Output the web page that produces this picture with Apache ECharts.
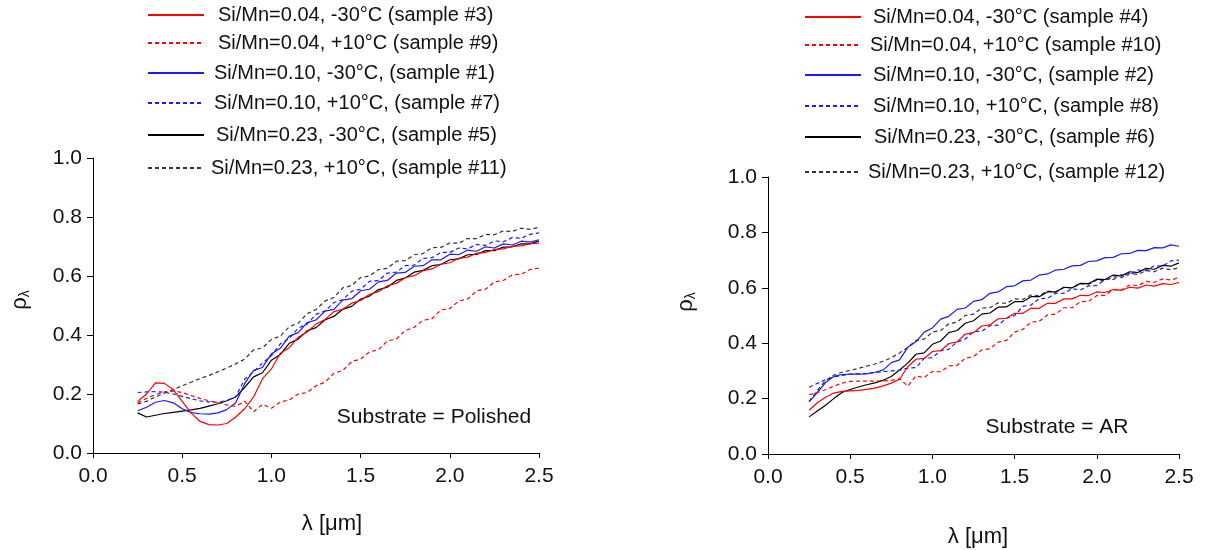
<!DOCTYPE html>
<html>
<head>
<meta charset="utf-8">
<script src="https://cdn.jsdelivr.net/npm/echarts@6/dist/echarts.min.js"></script>
<style>
  html, body { margin: 0; padding: 0; background: #fff; }
  #chart { width: 1214px; height: 550px; }
</style>
</head>
<body>
<div id="chart"></div>
<script>
// Wavelength grid (µm) shared by every spectrum
const wavelength = [0.25,0.30,0.35,0.40,0.45,0.50,0.55,0.60,0.65,0.70,0.75,0.80,0.85,0.90,0.95,1.00,
  1.05,1.10,1.15,1.20,1.25,1.30,1.35,1.40,1.45,1.50,1.55,1.60,1.65,1.70,1.75,1.80,1.85,1.90,1.95,2.00,
  2.05,2.10,2.15,2.20,2.25,2.30,2.35,2.40,2.45,2.50];

const xTicks = [0.0, 0.5, 1.0, 1.5, 2.0, 2.5];
const yTicks = [0.0, 0.2, 0.4, 0.6, 0.8, 1.0];

// Polished substrate
const namesPolished = [
  'Si/Mn=0.04, -30°C (sample #3)',
  'Si/Mn=0.04, +10°C (sample #9)',
  'Si/Mn=0.10, -30°C, (sample #1)',
  'Si/Mn=0.10, +10°C, (sample #7)',
  'Si/Mn=0.23, -30°C, (sample #5)',
  'Si/Mn=0.23, +10°C, (sample #11)'
];
const sample3 = [0.175,0.20,0.238,0.236,0.215,0.175,0.135,0.107,0.096,0.095,0.10,0.122,0.15,0.19,0.252,0.285,
  0.338,0.357,0.392,0.41,0.437,0.452,0.479,0.487,0.508,0.517,0.538,0.547,0.567,0.575,0.594,0.601,0.618,0.624,0.64,0.645,
  0.66,0.664,0.677,0.68,0.69,0.692,0.701,0.702,0.71,0.711];
const sample9 = [0.17,0.185,0.198,0.207,0.21,0.205,0.195,0.185,0.177,0.17,0.163,0.158,0.175,0.14,0.165,0.152,
  0.173,0.18,0.2,0.205,0.228,0.24,0.27,0.28,0.31,0.318,0.343,0.35,0.38,0.386,0.415,0.426,0.45,0.455,0.485,0.49,
  0.515,0.522,0.55,0.555,0.58,0.585,0.604,0.606,0.622,0.627];
const sample1 = [0.143,0.155,0.172,0.178,0.17,0.15,0.137,0.133,0.132,0.136,0.147,0.17,0.235,0.28,0.29,0.336,
  0.355,0.396,0.408,0.442,0.451,0.481,0.487,0.518,0.523,0.55,0.555,0.58,0.585,0.61,0.612,0.633,0.635,0.655,0.655,0.674,
  0.672,0.688,0.684,0.699,0.695,0.709,0.705,0.718,0.715,0.723];
const sample7 = [0.205,0.207,0.208,0.206,0.2,0.192,0.184,0.177,0.173,0.172,0.178,0.19,0.25,0.275,0.305,0.33,
  0.37,0.388,0.423,0.437,0.47,0.481,0.51,0.52,0.548,0.555,0.582,0.585,0.61,0.613,0.635,0.637,0.66,0.662,0.68,0.68,
  0.695,0.692,0.707,0.704,0.719,0.716,0.73,0.728,0.741,0.746];
const sample5 = [0.136,0.122,0.128,0.134,0.138,0.142,0.146,0.151,0.159,0.167,0.177,0.19,0.222,0.258,0.272,0.314,
  0.334,0.372,0.386,0.414,0.425,0.451,0.463,0.487,0.497,0.522,0.532,0.554,0.562,0.585,0.593,0.613,0.619,0.635,0.639,0.655,
  0.658,0.672,0.673,0.686,0.686,0.698,0.699,0.709,0.709,0.718];
const sample11 = [0.166,0.175,0.19,0.203,0.215,0.228,0.24,0.252,0.263,0.275,0.288,0.302,0.318,0.35,0.356,0.385,
  0.396,0.428,0.44,0.472,0.486,0.515,0.527,0.56,0.567,0.595,0.6,0.622,0.626,0.65,0.652,0.672,0.676,0.696,0.697,0.712,
  0.711,0.727,0.727,0.741,0.74,0.753,0.751,0.762,0.758,0.765];

// AR substrate
const namesAR = [
  'Si/Mn=0.04, -30°C (sample #4)',
  'Si/Mn=0.04, +10°C (sample #10)',
  'Si/Mn=0.10, -30°C, (sample #2)',
  'Si/Mn=0.10, +10°C, (sample #8)',
  'Si/Mn=0.23, -30°C, (sample #6)',
  'Si/Mn=0.23, +10°C, (sample #12)'
];
const sample4 = [0.158,0.185,0.205,0.22,0.226,0.228,0.23,0.233,0.238,0.246,0.256,0.27,0.315,0.342,0.345,0.37,
  0.373,0.399,0.405,0.433,0.438,0.462,0.466,0.488,0.49,0.508,0.508,0.526,0.526,0.544,0.544,0.56,0.56,0.573,0.572,0.585,
  0.583,0.594,0.591,0.602,0.599,0.61,0.606,0.615,0.612,0.619];
const sample10 = [0.214,0.222,0.232,0.245,0.256,0.262,0.263,0.263,0.263,0.264,0.266,0.272,0.245,0.282,0.276,0.298,
  0.297,0.318,0.32,0.346,0.352,0.376,0.38,0.404,0.41,0.44,0.45,0.476,0.479,0.502,0.505,0.528,0.528,0.55,0.551,0.572,
  0.573,0.593,0.592,0.61,0.608,0.623,0.62,0.632,0.628,0.637];
const sample2 = [0.188,0.222,0.258,0.28,0.287,0.288,0.288,0.289,0.295,0.303,0.33,0.34,0.385,0.405,0.44,0.455,
  0.487,0.497,0.522,0.527,0.551,0.557,0.58,0.585,0.604,0.607,0.625,0.628,0.646,0.65,0.664,0.667,0.679,0.681,0.695,0.697,
  0.709,0.71,0.723,0.724,0.735,0.734,0.745,0.744,0.755,0.75];
const sample8 = [0.241,0.255,0.268,0.278,0.284,0.288,0.29,0.291,0.294,0.297,0.3,0.303,0.31,0.312,0.345,0.348,
  0.373,0.378,0.405,0.415,0.442,0.443,0.463,0.465,0.49,0.5,0.533,0.538,0.561,0.562,0.581,0.58,0.597,0.592,0.607,0.608,
  0.63,0.63,0.648,0.646,0.664,0.662,0.68,0.678,0.697,0.70];
const sample6 = [0.134,0.155,0.176,0.2,0.222,0.233,0.242,0.25,0.257,0.266,0.28,0.303,0.328,0.36,0.365,0.396,
  0.408,0.438,0.446,0.472,0.481,0.505,0.509,0.53,0.531,0.55,0.55,0.568,0.568,0.585,0.585,0.602,0.6,0.616,0.615,0.631,
  0.63,0.646,0.643,0.658,0.655,0.67,0.667,0.681,0.678,0.69];
const sample12 = [0.19,0.23,0.265,0.285,0.295,0.302,0.309,0.317,0.325,0.335,0.347,0.365,0.385,0.41,0.415,0.44,
  0.446,0.47,0.476,0.5,0.505,0.527,0.528,0.546,0.544,0.56,0.558,0.574,0.572,0.588,0.585,0.601,0.599,0.615,0.613,0.628,
  0.626,0.64,0.637,0.652,0.648,0.662,0.658,0.671,0.665,0.673];

const FONT = "'Liberation Sans', Arial, Helvetica, sans-serif";
const RED = '#ff0000', BLUE = '#1a1aff', BLACK = '#000000';
const DASH = [4, 3];

const seriesStyles = [
  { color: RED, type: 'solid' },
  { color: RED, type: DASH },
  { color: BLUE, type: 'solid' },
  { color: BLUE, type: DASH },
  { color: BLACK, type: 'solid' },
  { color: '#333333', type: DASH }
];

const polishedData = [sample3, sample9, sample1, sample7, sample5, sample11];
const arData = [sample4, sample10, sample2, sample8, sample6, sample12];

function pairs(values) {
  return values.map((v, i) => [wavelength[i], v]);
}

function makeSeries(names, datasets, gridIdx) {
  return names.map((name, k) => ({
    name: name,
    type: 'line',
    xAxisIndex: gridIdx,
    yAxisIndex: gridIdx,
    data: pairs(datasets[k]),
    symbol: 'none',
    showSymbol: false,
    smooth: false,
    lineStyle: { color: seriesStyles[k].color, width: 1.2, type: seriesStyles[k].type },
    itemStyle: { color: seriesStyles[k].color },
    emphasis: { disabled: true },
    z: 10 - k
  }));
}

// one legend entry per component so each row can sit at its own height
const legendRowsLeft = [
  { top: 5, pad: 9 }, { top: 33, pad: 9 }, { top: 63, pad: 5 },
  { top: 93, pad: 5 }, { top: 125, pad: 7 }, { top: 158, pad: 2 }
];
const legendRowsRight = [
  { top: 7, pad: 7 }, { top: 35, pad: 4 }, { top: 65, pad: 7 },
  { top: 96, pad: 7 }, { top: 127, pad: 8 }, { top: 162, pad: 2 }
];

function makeLegends(names, rows, left) {
  return names.map((name, k) => ({
    data: [name],
    left: left,
    top: rows[k].top,
    padding: 0,
    itemWidth: 56,
    itemHeight: 14,
    selectedMode: false,
    // only the line sample is drawn, the marker is hidden
    itemStyle: { opacity: 0, borderWidth: 0 },
    textStyle: {
      fontFamily: FONT, fontSize: 20, color: '#111',
      padding: [0, 0, 0, rows[k].pad]
    }
  }));
}

function xAxisFor(gridIdx) {
  return {
    type: 'value', gridIndex: gridIdx,
    min: xTicks[0], max: xTicks[xTicks.length - 1], interval: 0.5,
    axisLine: { show: true, lineStyle: { color: '#000', width: 1 } },
    axisTick: { show: true, length: 5, lineStyle: { color: '#000' } },
    axisLabel: { fontFamily: FONT, fontSize: 21, color: '#111', margin: 13,
      formatter: v => v.toFixed(1) },
    splitLine: { show: false }
  };
}
function yAxisFor(gridIdx) {
  return {
    type: 'value', gridIndex: gridIdx,
    min: yTicks[0], max: yTicks[yTicks.length - 1], interval: 0.2,
    axisLine: { show: true, lineStyle: { color: '#000', width: 1 } },
    axisTick: { show: true, length: 6, lineStyle: { color: '#000' } },
    axisLabel: { fontFamily: FONT, fontSize: 21, color: '#111', margin: 11,
      formatter: v => v.toFixed(1) },
    splitLine: { show: false }
  };
}

function rhoLabel(x, y) {
  return {
    type: 'text', x: x, y: y, rotation: Math.PI / 2,
    style: {
      text: '{a|ρ}{b|λ}',
      align: 'center', verticalAlign: 'middle',
      rich: {
        a: { fontFamily: FONT, fontSize: 22, fill: '#111' },
        b: { fontFamily: FONT, fontSize: 14, fill: '#111', padding: [10, 0, 0, 0] }
      }
    }
  };
}
function plainText(x, y, text, size) {
  return {
    type: 'text', x: x, y: y,
    style: { text: text, fontFamily: FONT, fontSize: size, fill: '#111',
      align: 'center', verticalAlign: 'middle' }
  };
}

const chart = echarts.init(document.getElementById('chart'), null, { renderer: 'canvas' });
chart.setOption({
  animation: false,
  backgroundColor: '#fff',
  grid: [
    { left: 93, right: 675, top: 158, bottom: 97 },
    { left: 768, right: 35, top: 177, bottom: 96 }
  ],
  xAxis: [xAxisFor(0), xAxisFor(1)],
  yAxis: [yAxisFor(0), yAxisFor(1)],
  legend: makeLegends(namesPolished, legendRowsLeft, 147).concat(makeLegends(namesAR, legendRowsRight, 804)),
  series: makeSeries(namesPolished, polishedData, 0).concat(makeSeries(namesAR, arData, 1)),
  graphic: [
    rhoLabel(20, 300),
    rhoLabel(686, 302),
    plainText(332, 524, 'λ [μm]', 22),
    plainText(978, 537, 'λ [μm]', 22),
    plainText(434, 417, 'Substrate = Polished', 21),
    plainText(1057, 427, 'Substrate = AR', 21)
  ]
});
</script>
</body>
</html>
